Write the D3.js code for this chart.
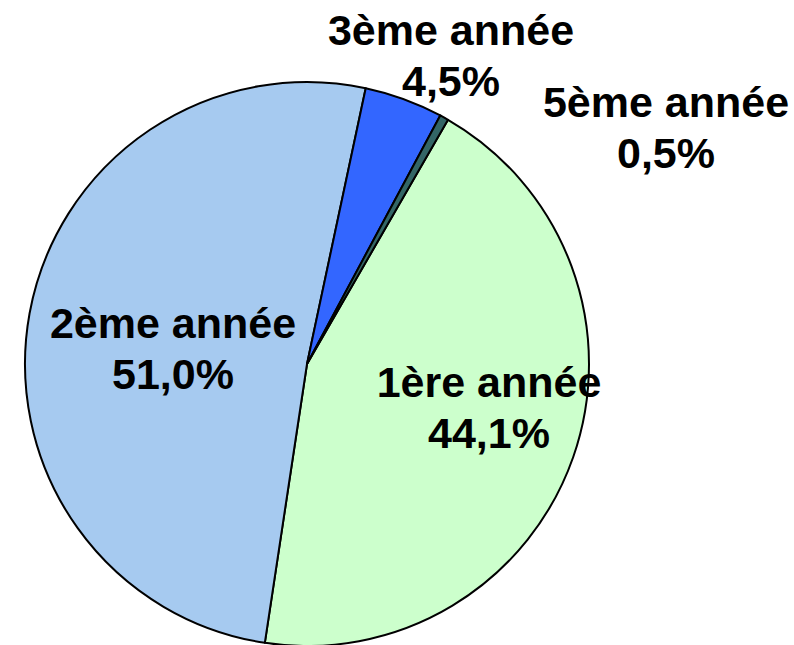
<!DOCTYPE html>
<html>
  <head>
    <meta charset="utf-8">
    <title>Répartition par année</title>
    <style>
      body { margin: 0; background: #fff; }
      .lbl { font-family: "Liberation Sans", Arial, sans-serif; font-weight: bold; font-size: 43px; fill: #000; }
    </style>
  </head>
  <body>
    <div id="pie"></div>
    <script src="https://d3js.org/d3.v7.min.js"></script>
    <script>
      // data, in drawing order (clockwise)
      var categories = ["1ère année", "2ème année", "3ème année", "5ème année"]
      var values     = [44.1, 51.0, 4.5, 0.5]
      var colors     = ["#CCFFCC", "#A6CAF0", "#3366FF", "#336666"]

      var width  = 794,
          height = 645,
          cx     = 307,
          cy     = 364,
          radius = 282;

      // where Excel put each label (centre of the text block)
      var labelPos = [[489, 397], [173, 338], [451, 45], [666, 117]]
      var lineGap  = 51

      var svg = d3.select("#pie")
                  .append("svg")
                  .attr("width", width)
                  .attr("height", height)

      var g = svg.append("g")
                 .attr("transform", "translate(" + cx + "," + cy + ")")

      var pie = d3.pie()
                  .sort(null)
                  .value(function(d){ return d })
                  .startAngle(30 * Math.PI / 180)
                  .endAngle(30 * Math.PI / 180 + 2 * Math.PI)

      var arc = d3.arc().innerRadius(0).outerRadius(radius)

      g.selectAll("path")
        .data(pie(values))
        .enter()
        .append("path")
        .attr("d", arc)
        .attr("fill", function(d,i){ return colors[i] })
        .attr("stroke", "#000")
        .attr("stroke-width", 2)
        .attr("stroke-linejoin", "round")

      var fmt = function(v){ return v.toFixed(1).replace(".", ",") + "%" }

      var labels = svg.selectAll("text.lbl")
        .data(values)
        .enter()
        .append("text")
        .attr("class", "lbl")
        .attr("text-anchor", "middle")
        .attr("transform", function(d,i){ return "translate(" + labelPos[i][0] + "," + labelPos[i][1] + ")" })

      labels.append("tspan")
        .attr("x", 0).attr("y", 0)
        .text(function(d,i){ return categories[i] })

      labels.append("tspan")
        .attr("x", 0).attr("y", lineGap)
        .text(function(d){ return fmt(d) })
    </script>
  </body>
</html>
